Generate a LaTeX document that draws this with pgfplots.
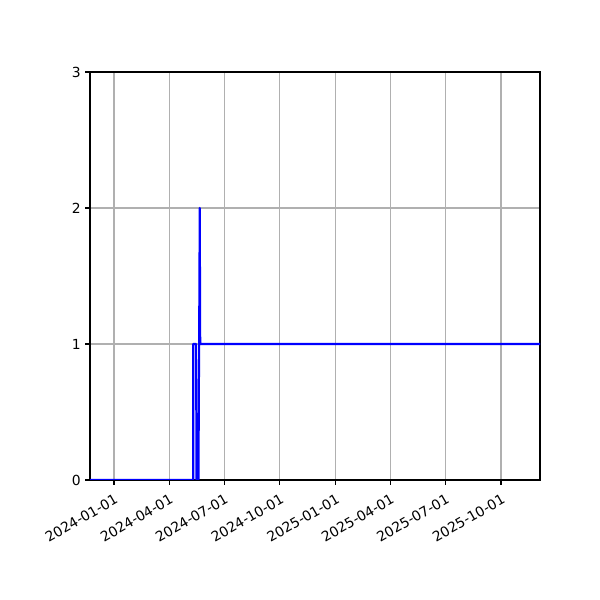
\documentclass[border=0pt]{standalone}
\usepackage{pgfplots}
\pgfplotsset{compat=1.18}
\usepackage{fontspec}
\setmainfont{DejaVu Sans}
\definecolor{gridgray}{HTML}{B0B0B0}
\begin{document}
\fontsize{10bp}{12bp}\selectfont
\begin{tikzpicture}
% fixes the 600x600 px canvas (1 px = 0.72 bp)
\path[use as bounding box] (0,0) rectangle (432bp,432bp);
\begin{axis}[
  at={(64.8bp,86.4bp)}, anchor=south west,
  width=324bp, height=293.76bp, scale only axis,
  xmin=-39.6, xmax=703.4,
  ymin=0, ymax=3,
  ytick={0,1,2,3},
  xtick={0,91,182,274,366,456,547,639},
  xticklabels={2024-01-01,2024-04-01,2024-07-01,2024-10-01,2025-01-01,2025-04-01,2025-07-01,2025-10-01},
  every tick label/.style={font=\fontsize{10bp}{12bp}\selectfont},
  xticklabel style={rotate=30, anchor=north east, inner sep=0pt, yshift=-5bp, xshift=-3bp},
  yticklabel style={inner sep=0pt, xshift=-3bp},
  /pgf/number format/assume math mode=true,
  tick align=outside, tickwidth=3.5bp,
  xtick pos=bottom, ytick pos=left,
  major tick style={black, line width=0.8bp},
  axis line style={black, line width=0.8bp},
  grid=major,
  major grid style={gridgray, line width=0.8bp},
]
\addplot[blue, line width=1.5bp, line join=round] coordinates {
  (-39.6,0) (130.9,0) (130.9,1) (135.6,1) (136.2,0) (139.5,0) (141.6,2) (142.4,1) (703.4,1)
};
\end{axis}
\end{tikzpicture}
\end{document}
